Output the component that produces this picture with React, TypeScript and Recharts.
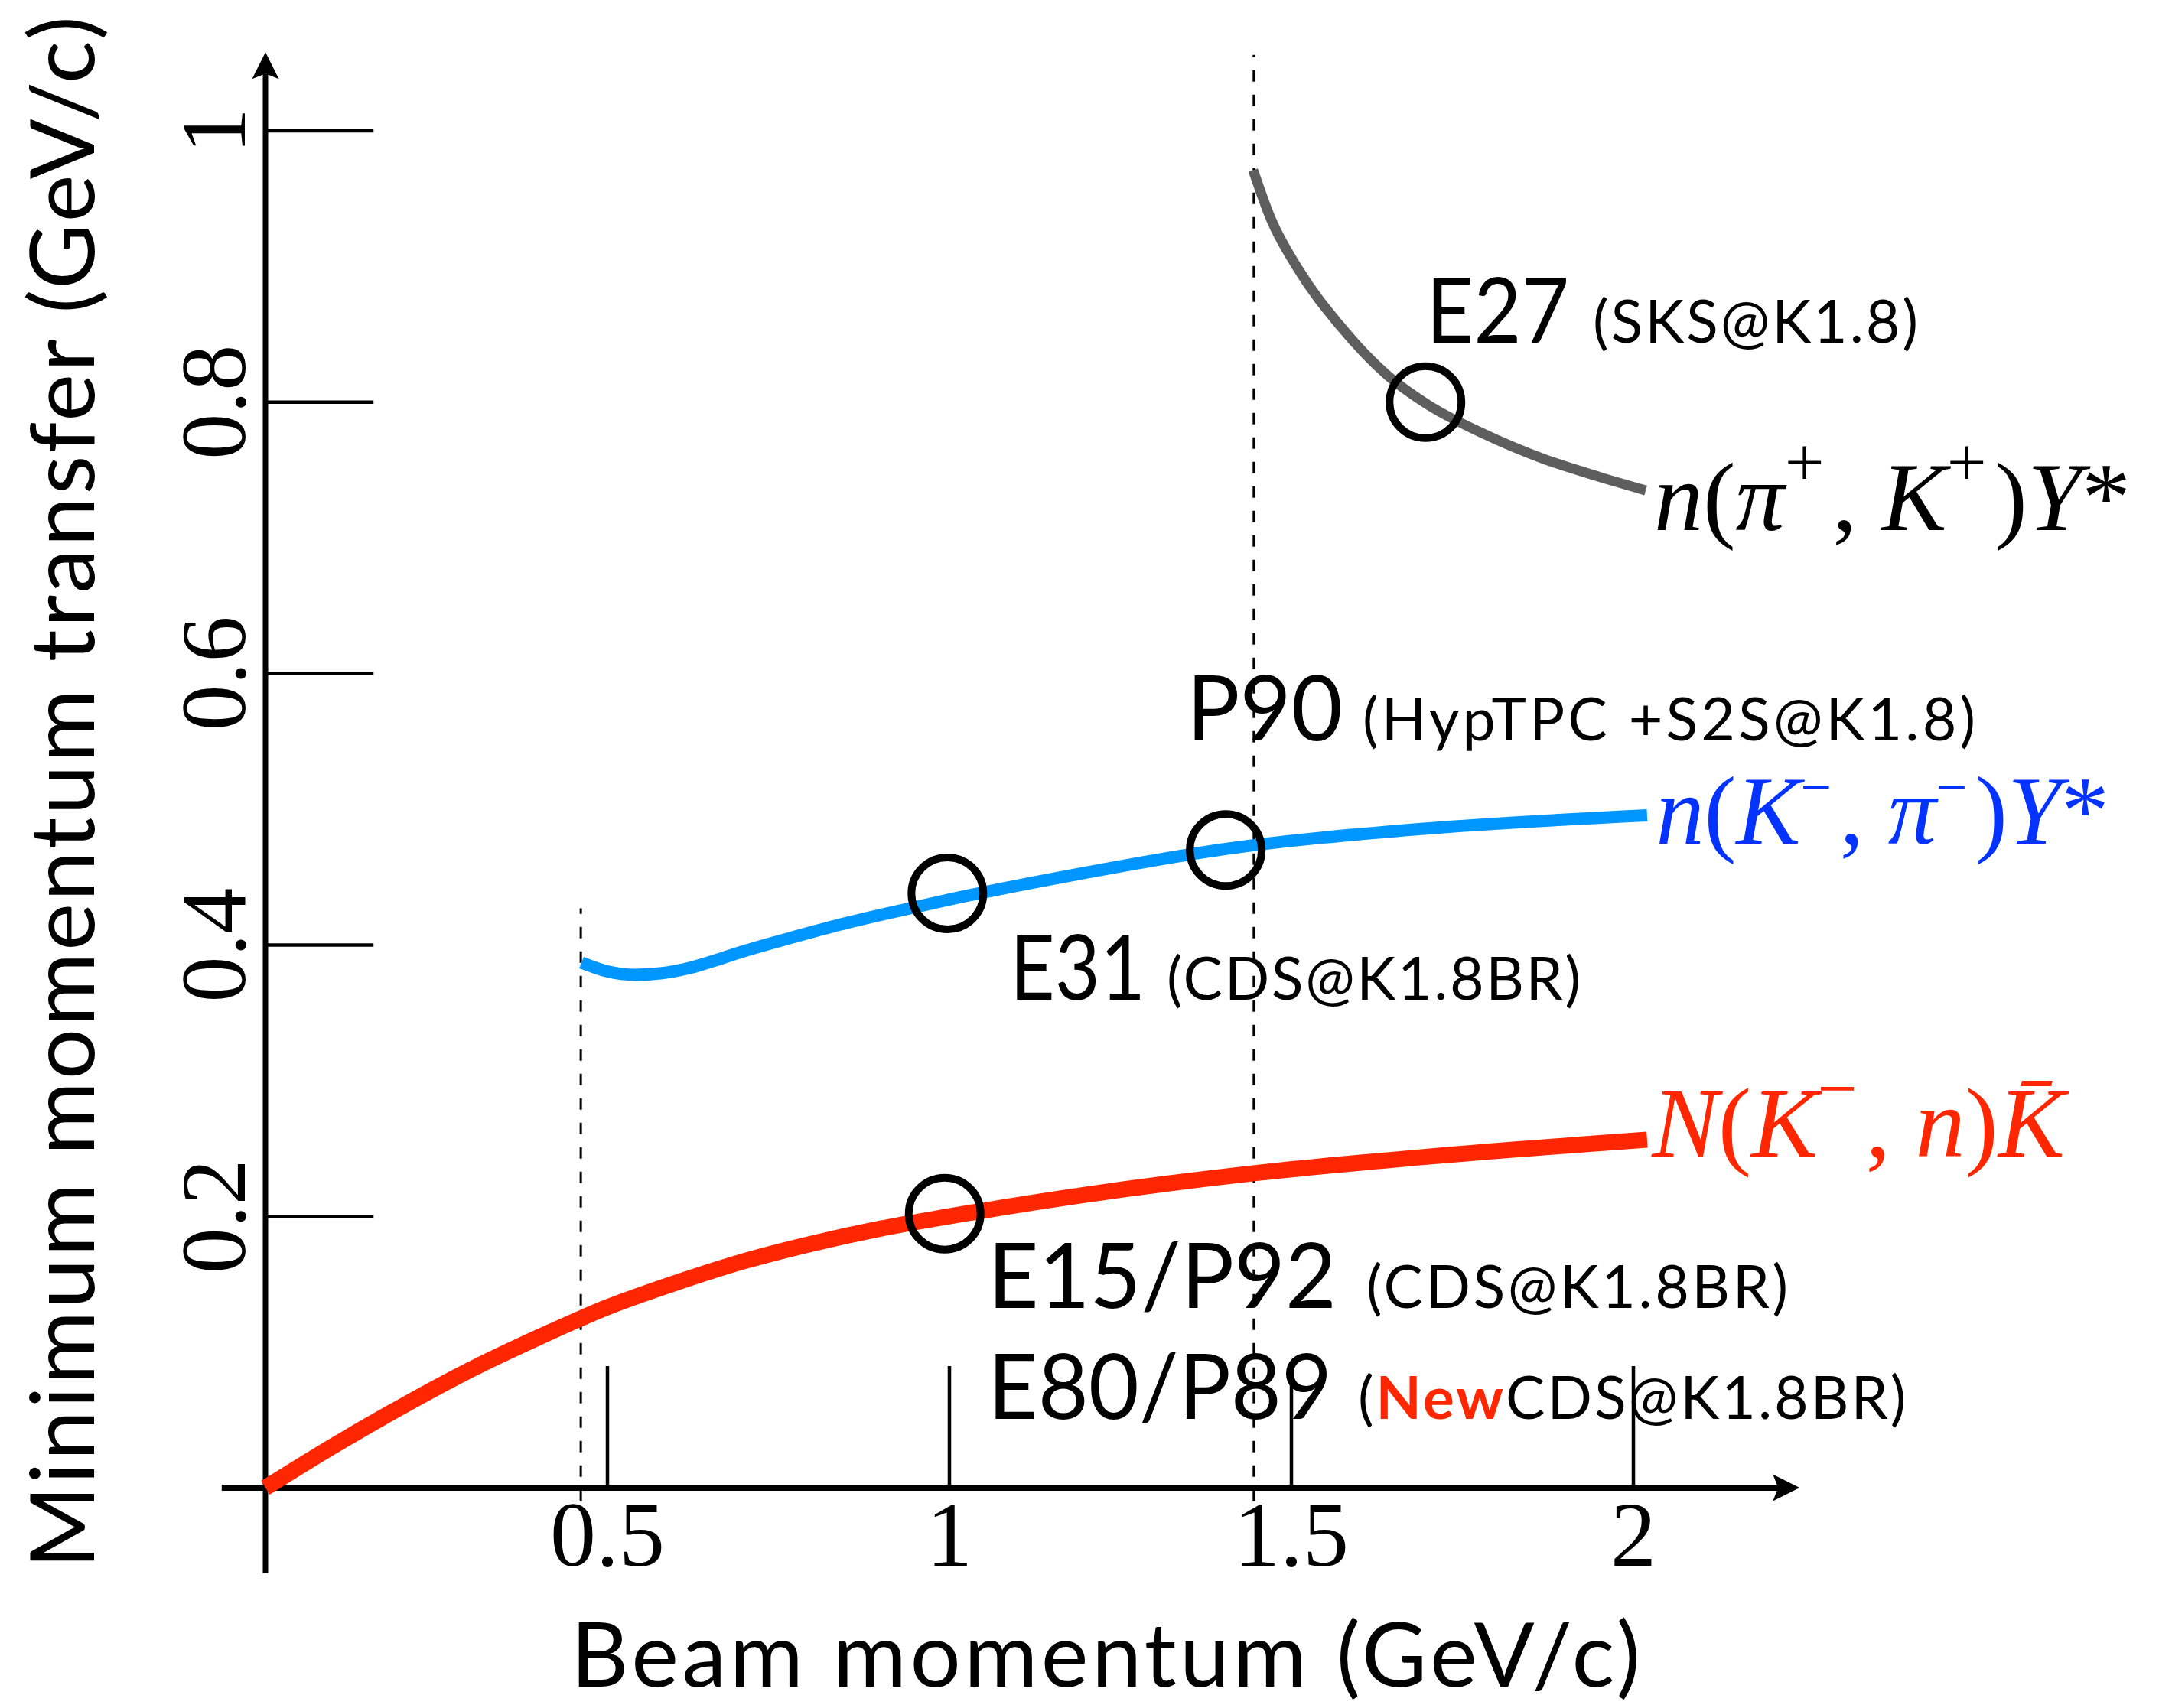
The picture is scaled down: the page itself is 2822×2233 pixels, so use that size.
import { LineChart, Line, XAxis, YAxis, ReferenceLine, ReferenceDot } from 'recharts';

// minimum momentum transfer curves
const kbarX = [0, 0.1, 0.2, 0.3, 0.4, 0.5, 0.6, 0.7, 0.8, 0.9, 1.0, 1.2, 1.45, 1.7, 2.02];
const kbarY = [0, 0.031, 0.06, 0.087, 0.111, 0.133, 0.151, 0.167, 0.18, 0.191, 0.2, 0.216, 0.232, 0.244, 0.2565];

const kpiX = [0.462, 0.5, 0.54, 0.58, 0.62, 0.66, 0.69, 0.77, 0.84, 0.92, 1.0, 1.18, 1.4, 1.69, 2.02];
const kpiY = [0.387, 0.3805, 0.378, 0.3792, 0.383, 0.389, 0.394, 0.4055, 0.415, 0.4245, 0.4335, 0.4515, 0.4705, 0.4855, 0.4955];

const pikX = [1.444, 1.47, 1.51, 1.57, 1.64, 1.7, 1.78, 1.87, 1.95, 2.018];
const pikY = [0.971, 0.935, 0.898, 0.857, 0.82, 0.798, 0.777, 0.758, 0.745, 0.735];

// experiments (circles)
const expX = [0.993, 0.997, 1.404, 1.696];
const expY = [0.202, 0.438, 0.47, 0.8];

// thresholds (dashed)
const cutX = [0.461, 1.445];
const cutTop = [0.427, 1.056];

const xTicks = [0.5, 1, 1.5, 2];
const xTickLabels = ['0.5', '1', '1.5', '2'];
const yTicks = [0.2, 0.4, 0.6, 0.8, 1];
const yTickLabels = ['0.2', '0.4', '0.6', '0.8', '1'];

const zip = (xs: number[], ys: number[]) => xs.map((x, i) => ({ x, y: ys[i] }));
const kbarData = zip(kbarX, kbarY);
const kpiData = zip(kpiX, kpiY);
const pikData = zip(pikX, pikY);

const RED = '#FF2600';
const BLUE = '#0096FF';
const BLUE_TXT = '#0433FF';
const GRAY = '#5E5E5E';
const SANS = 'Lato, "Noto Sans", sans-serif';
const SERIF = '"Liberation Serif", "DejaVu Serif", serif';

const arrow = (w: number) => (p: any) => {
  const { x1, y1, x2, y2 } = p;
  const dx = x2 - x1;
  const dy = y2 - y1;
  const len = Math.hypot(dx, dy) || 1;
  const ux = dx / len;
  const uy = dy / len;
  const nx = -uy;
  const ny = ux;
  const L = 35;
  const W = 17.5;
  const bx = x2 - ux * L;
  const by = y2 - uy * L;
  const mx = bx + ux * 7;
  const my = by + uy * 7;
  return (
    <g>
      <line x1={x1} y1={y1} x2={mx} y2={my} stroke="#000" strokeWidth={w} />
      <polygon
        points={`${x2},${y2} ${bx + nx * W},${by + ny * W} ${mx},${my} ${bx - nx * W},${by - ny * W}`}
        fill="#000"
      />
    </g>
  );
};

const at = (draw: (x: number, y: number) => any) => (p: any) => draw(p.cx, p.cy);

const sup = (s: string, size: number, up: number) => [
  <tspan key="a" dy={-up} fontSize={size} fontStyle="normal">{s}</tspan>,
  <tspan key="b" dy={up}>{'\u200A'}</tspan>,
];

const big = (s: string, w: number) => at((x, y) => (
  <text x={x} y={y} fontFamily={SANS} fontSize={118} textLength={w} lengthAdjust="spacingAndGlyphs" fill="#000">{s}</text>
));
const small = (s: string, w: number) => at((x, y) => (
  <text x={x} y={y} fontFamily={SANS} fontSize={77} textLength={w} fill="#000">{s}</text>
));

export default function App() {
  return (
    <div style={{ width: 2806, height: 2217 }}>
      <style>{'.recharts-surface{overflow:visible}'}</style>
      <LineChart width={2806} height={2217} margin={{ top: 21.1, right: 53.2, bottom: 102.6, left: 70.8 }}>
        <XAxis dataKey="x" type="number" domain={[-0.3, 2.7]} allowDataOverflow hide />
        <YAxis type="number" domain={[-0.1, 1.08]} allowDataOverflow hide />

        {/* threshold lines */}
        {cutX.map((x, i) => (
          <ReferenceLine key={'cut' + i} segment={[{ x, y: -0.01 }, { x, y: cutTop[i] }]}
            stroke="#000" strokeWidth={3} strokeDasharray="15 17" ifOverflow="visible" />
        ))}

        {/* axes with arrows */}
        <ReferenceLine segment={[{ x: 0, y: -0.063 }, { x: 0, y: 1.058 }]} ifOverflow="visible" shape={arrow(7)} />
        <ReferenceLine segment={[{ x: -0.064, y: 0 }, { x: 2.243, y: 0 }]} ifOverflow="visible" shape={arrow(8)} />

        {yTicks.map((v) => (
          <ReferenceLine key={'yt' + v} segment={[{ x: 0, y: v }, { x: 0.158, y: v }]}
            stroke="#000" strokeWidth={4.5} ifOverflow="visible" />
        ))}
        {xTicks.map((v) => (
          <ReferenceLine key={'xt' + v} segment={[{ x: v, y: 0 }, { x: v, y: 0.0896 }]}
            stroke="#000" strokeWidth={4.5} ifOverflow="visible" />
        ))}

        {yTicks.map((v, i) => (
          <ReferenceDot key={'yl' + v} x={-0.0302} y={v} r={1} ifOverflow="visible"
            shape={at((x, y) => (
              <text x={x} y={y} transform={`rotate(-90, ${x}, ${y})`} textAnchor="middle"
                fontFamily={SERIF} fontSize={120} fill="#000">{yTickLabels[i]}</text>
            ))} />
        ))}
        {xTicks.map((v, i) => (
          <ReferenceDot key={'xl' + v} x={v} y={-0.0575} r={1} ifOverflow="visible"
            shape={at((x, y) => (
              <text x={x} y={y} textAnchor="middle" fontFamily={SERIF} fontSize={120} fill="#000">{xTickLabels[i]}</text>
            ))} />
        ))}

        <Line data={kbarData} dataKey="y" type="monotone" stroke={RED} strokeWidth={21} dot={false}
          isAnimationActive={false} />
        <Line data={kpiData} dataKey="y" type="monotone" stroke={BLUE} strokeWidth={16} dot={false}
          isAnimationActive={false} />
        <Line data={pikData} dataKey="y" type="monotone" stroke={GRAY} strokeWidth={13} dot={false}
          isAnimationActive={false} />

        {expX.map((x, i) => (
          <ReferenceDot key={'e' + i} x={x} y={expY[i]} r={47} fill="none" stroke="#000" strokeWidth={10}
            ifOverflow="visible" />
        ))}

        {/* experiment labels */}
        <ReferenceDot x={1.697} y={0.8438} r={1} ifOverflow="visible" shape={big('E27', 187)} />
        <ReferenceDot x={1.9407} y={0.8438} r={1} ifOverflow="visible" shape={small('(SKS@K1.8)', 425)} />
        <ReferenceDot x={1.3468} y={0.5505} r={1} ifOverflow="visible" shape={big('P90', 204)} />
        <ReferenceDot x={1.604} y={0.5505} r={1} ifOverflow="visible" shape={small('(HypTPC +S2S@K1.8)', 801)} />
        <ReferenceDot x={1.0884} y={0.3596} r={1} ifOverflow="visible" shape={big('E31', 177)} />
        <ReferenceDot x={1.3177} y={0.3596} r={1} ifOverflow="visible" shape={small('(CDS@K1.8BR)', 541)} />
        <ReferenceDot x={1.0559} y={0.1325} r={1} ifOverflow="visible" shape={big('E15/P92', 456)} />
        <ReferenceDot x={1.6096} y={0.1325} r={1} ifOverflow="visible" shape={small('(CDS@K1.8BR)', 551)} />
        <ReferenceDot x={1.0559} y={0.0507} r={1} ifOverflow="visible" shape={big('E80/P89', 450)} />
        <ReferenceDot x={1.5973} y={0.0507} r={1} ifOverflow="visible" shape={at((x, y) => (
          <text x={x} y={y} fontFamily={SANS} fontSize={77} fill="#000" letterSpacing={3}>
            (<tspan fill={RED} fontWeight={700}>New</tspan>CDS@K1.8BR)
          </text>
        ))} />

        {/* reaction labels */}
        <ReferenceDot x={2.0302} y={0.7057} r={1} ifOverflow="visible" shape={at((x, y) => (
          <text x={x} y={y} fontFamily={SERIF} fontSize={128} fill="#000">
            <tspan fontStyle="italic">n</tspan>(<tspan fontStyle="italic">π</tspan>
            {sup('+', 92, 58)},<tspan fontStyle="italic"> K</tspan>
            {sup('+', 92, 58)})<tspan fontStyle="italic">Y</tspan>*
          </text>
        ))} />
        <ReferenceDot x={2.033} y={0.4746} r={1} ifOverflow="visible" shape={at((x, y) => (
          <text x={x} y={y} fontFamily={SERIF} fontSize={126} fill={BLUE_TXT}>
            <tspan fontStyle="italic">n</tspan>(<tspan fontStyle="italic">K</tspan>
            {sup('−', 72, 50)}, <tspan fontStyle="italic">π</tspan>
            {sup('−', 72, 50)})<tspan fontStyle="italic">Y</tspan>*
          </text>
        ))} />
        <ReferenceDot x={2.027} y={0.2441} r={1} ifOverflow="visible" shape={at((x, y) => (
          <text x={x} y={y} fontFamily={SERIF} fontSize={130} fill={RED}>
            <tspan fontStyle="italic">N</tspan>(<tspan fontStyle="italic">K</tspan>
            {sup('−', 92, 58)}, <tspan fontStyle="italic">n</tspan>)<tspan fontStyle="italic">{'K\u0304'}</tspan>
          </text>
        ))} />

        {/* axis titles */}
        <ReferenceDot x={0.4463} y={-0.1466} r={1} ifOverflow="visible" shape={at((x, y) => (
          <text x={x} y={y} fontFamily={SANS} fontSize={117} textLength={1398} fill="#000">Beam momentum (GeV/c)</text>
        ))} />
        <ReferenceDot x={-0.2506} y={0.5124} r={1} ifOverflow="visible" shape={at((x, y) => (
          <text x={x} y={y} transform={`rotate(-90, ${x}, ${y})`} textAnchor="middle" fontFamily={SANS}
            fontSize={117} textLength={2030} fill="#000">Minimum momentum transfer (GeV/c)</text>
        ))} />
      </LineChart>
    </div>
  );
}
